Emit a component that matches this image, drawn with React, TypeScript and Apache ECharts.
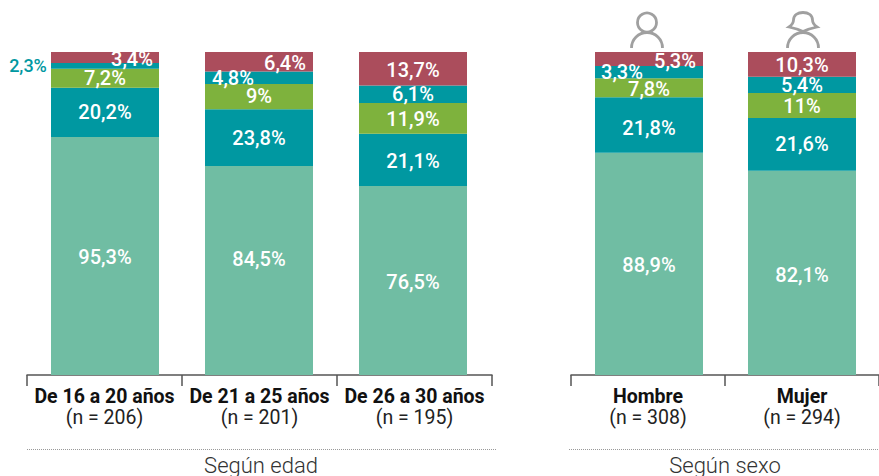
import React, { useEffect, useRef } from "react";
import * as echarts from "echarts";

const edadCats = ["De 16 a 20 años", "De 21 a 25 años", "De 26 a 30 años"];
const edadN = ["(n = 206)", "(n = 201)", "(n = 195)"];
const sexoCats = ["Hombre", "Mujer"];
const sexoN = ["(n = 308)", "(n = 294)"];

// printed labels, bottom to top segment, per group
const label1Edad = ["95,3%", "84,5%", "76,5%"];
const label2Edad = ["20,2%", "23,8%", "21,1%"];
const label3Edad = ["7,2%", "9%", "11,9%"];
const label4Edad = ["2,3%", "4,8%", "6,1%"];
const label5Edad = ["3,4%", "6,4%", "13,7%"];
const label1Sexo = ["88,9%", "82,1%"];
const label2Sexo = ["21,8%", "21,6%"];
const label3Sexo = ["7,8%", "11%"];
const label4Sexo = ["3,3%", "5,4%"];
const label5Sexo = ["5,3%", "10,3%"];

// segment heights, share of the full bar (%)
const seg1Edad = [73.7, 64.7, 58.5];
const seg2Edad = [15.2, 17.6, 16.2];
const seg3Edad = [5.9, 7.8, 9.5];
const seg4Edad = [1.8, 3.9, 5.4];
const seg5Edad = [3.4, 6.0, 10.4];
const seg1Sexo = [68.8, 63.2];
const seg2Sexo = [17.2, 16.4];
const seg3Sexo = [5.9, 7.7];
const seg4Sexo = [3.8, 5.0];
const seg5Sexo = [4.3, 7.7];

const colors = ["#70BDA3", "#0098A1", "#7EB23D", "#0098A1", "#AB4D5C"];

// label nudges [dx, dy]
const offEdad: number[][][] = [
  [[0, 1], [0, -12], [0, 1]],
  [[0, 0], [0, 0], [0, 1]],
  [[0, 0], [0, -1], [0, 1]],
  [[-77, 0], [-26, 0], [0, 0]],
  [[27, 2], [26, 1], [0, 1]],
];
const offSexo: number[][][] = [
  [[0, 1], [0, 2]],
  [[0, 3.5], [0, 0]],
  [[0, 1], [0, 1]],
  [[-27, 0], [0, 0]],
  [[26, 2], [0, 1]],
];

echarts.graphic.registerShape(
  "womanHead",
  echarts.graphic.extendPath(
    "M-14 27 C-11 25 -9.5 23 -9.5 20 C-9.5 15 -5 12.5 0 12.5 C5 12.5 9.5 15 9.5 20 C9.5 23 11 25 14 27 C9 28 4 29.5 0 31.5 C-4 29.5 -9 28 -14 27 Z",
    {}
  ) as any
);

function buildSeries(segs: number[][], labels: string[][], offs: number[][][], idx: number, stack: string) {
  return segs.map((s, k) => ({
    type: "bar",
    stack,
    xAxisIndex: idx,
    yAxisIndex: idx,
    barWidth: 108,
    itemStyle: { color: colors[k] },
    silent: true,
    data: s.map((v, i) => {
      const outside = offs[k][i][0] === -77;
      return {
        value: v,
        label: {
          show: true,
          position: "inside",
          offset: offs[k][i],
          formatter: labels[k][i],
          color: outside ? "#0098A1" : "#fff",
          fontFamily: "Roboto",
          fontWeight: 500,
          fontSize: outside ? 18 : 20,
          lineHeight: 15,
        },
      };
    }),
  }));
}

const App = () => {
  const ref = useRef<HTMLDivElement>(null);
  useEffect(() => {
    const chart = echarts.init(ref.current!, undefined, { renderer: "svg" });
    const barAxis = (cats: string[], g: number) => ({
      type: "category", gridIndex: g, data: cats, show: false,
    });
    const showAxis = (cats: string[], ns: string[], g: number) => ({
      type: "category",
      gridIndex: g,
      data: cats,
      axisLine: { show: true, lineStyle: { color: "#555", width: 1.5 } },
      axisTick: { show: true, length: 11, lineStyle: { color: "#555", width: 1.5 } },
      axisLabel: {
        interval: 0,
        margin: 11,
        formatter: (v: string, i: number) => `{b|${v}}\n{n|${ns[i]}}`,
        rich: {
          b: { fontFamily: "Roboto", fontWeight: 700, fontSize: 19.5, color: "#111", lineHeight: 21 },
          n: { fontFamily: "Roboto", fontWeight: 400, fontSize: 19.5, color: "#222", lineHeight: 21 },
        },
      },
    });
    const yAx = (g: number) => ({ type: "value", gridIndex: g, min: 0, max: 100, show: false });
    const titleStyle = { fontFamily: "Roboto", fontWeight: 300, fontSize: 22, fill: "#333", textAlign: "center", textVerticalAlign: "middle" };
    const iconStroke = { stroke: "#a0a0a0", lineWidth: 2.8, fill: "none" };
    chart.setOption({
      animation: false,
      grid: [
        { left: 28, top: 52, width: 462, height: 323 },
        { left: 572.5, top: 52, width: 306, height: 323 },
        { left: 27, top: 52, width: 465, height: 323 },
        { left: 571, top: 52, width: 308, height: 323 },
      ],
      xAxis: [barAxis(edadCats, 0), barAxis(sexoCats, 1), showAxis(edadCats, edadN, 2), showAxis(sexoCats, sexoN, 3)],
      yAxis: [yAx(0), yAx(1), yAx(2), yAx(3)],
      series: [
        ...buildSeries([seg1Edad, seg2Edad, seg3Edad, seg4Edad, seg5Edad], [label1Edad, label2Edad, label3Edad, label4Edad, label5Edad], offEdad, 0, "edad"),
        ...buildSeries([seg1Sexo, seg2Sexo, seg3Sexo, seg4Sexo, seg5Sexo], [label1Sexo, label2Sexo, label3Sexo, label4Sexo, label5Sexo], offSexo, 1, "sexo"),
      ],
      graphic: [
        { type: "line", silent: true, shape: { x1: 27, y1: 449.5, x2: 496, y2: 449.5 }, style: { stroke: "#999", lineWidth: 1, lineDash: [1, 1] } },
        { type: "line", silent: true, shape: { x1: 569, y1: 449.5, x2: 879, y2: 449.5 }, style: { stroke: "#999", lineWidth: 1, lineDash: [1, 1] } },
        { type: "text", silent: true, x: 261, y: 465, style: { text: "Según edad", ...titleStyle } },
        { type: "text", silent: true, x: 725, y: 465, style: { text: "Según sexo", ...titleStyle } },
        { type: "circle", silent: true, shape: { cx: 647, cy: 22.5, r: 9.5 }, style: iconStroke },
        { type: "arc", silent: true, shape: { cx: 647, cy: 48, r: 15.5, startAngle: Math.PI, endAngle: 2 * Math.PI }, style: iconStroke },
        { type: "womanHead", silent: true, x: 803, y: 0, style: iconStroke },
        { type: "arc", silent: true, shape: { cx: 803, cy: 48, r: 15.5, startAngle: Math.PI, endAngle: 2 * Math.PI }, style: iconStroke },
      ],
    });
    return () => chart.dispose();
  }, []);
  return <div ref={ref} style={{ position: "absolute", left: 0, top: 0, width: 879, height: 476 }} />;
};

export default App;
